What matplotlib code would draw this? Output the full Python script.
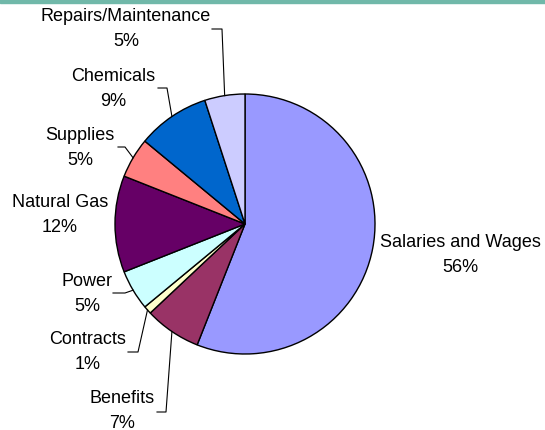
import numpy as np
import matplotlib
matplotlib.use('Agg')
import matplotlib.pyplot as plt
from matplotlib.patches import Rectangle

# Cost breakdown (percent), clockwise from 12 o'clock
labels = ["Salaries and Wages", "Benefits", "Contracts", "Power",
          "Natural Gas", "Supplies", "Chemicals", "Repairs/Maintenance"]
shares = [56, 7, 1, 5, 12, 5, 9, 5]
colors = ["#9999FF", "#993366", "#FFFFCC", "#CCFFFF",
          "#660066", "#FF8080", "#0066CC", "#CCCCFF"]

# label layout in pixel coords: text centre, and leader elbow (None = no leader)
text_pos = {
    "Salaries and Wages": (460, 255),
    "Benefits": (122, 411),
    "Contracts": (88, 352),
    "Power": (87, 294),
    "Natural Gas": (60, 215),
    "Supplies": (80, 148),
    "Chemicals": (113, 89),
    "Repairs/Maintenance": (126, 29),
}
leader_start = {
    "Benefits": [(157, 413), (166, 413)],
    "Contracts": [(128, 353), (138, 353)],
    "Power": [(113, 294), (125, 294)],
    "Supplies": [(118, 148), (125, 148)],
    "Chemicals": [(158, 89), (167, 89)],
    "Repairs/Maintenance": [(212, 30), (222, 30)],
}

W, H = 545, 431
cx, cy, r = 245, 225, 130

plt.rcParams['font.family'] = ['Liberation Sans', 'DejaVu Sans']

fig = plt.figure(figsize=(W / 100, H / 100), dpi=100)
ax = fig.add_axes([0, 0, 1, 1])

# y axis is inverted, so counterclock in data space shows clockwise
wedges, _ = ax.pie(shares, colors=colors, startangle=-90, counterclock=True,
                   center=(cx, cy), radius=r, frame=True,
                   wedgeprops=dict(edgecolor='black', linewidth=1.0))
ax.set_xlim(0, W)
ax.set_ylim(H, 0)
ax.set_aspect('equal')
ax.axis('off')

for w, lab, val in zip(wedges, labels, shares):
    tx, ty = text_pos[lab]
    ax.text(tx, ty, f"{lab}\n{val}%", ha='center', va='center',
            fontsize=13, linespacing=1.55, color='black')
    if lab in leader_start:
        mid = np.deg2rad((w.theta1 + w.theta2) / 2)
        ex, ey = cx + r * np.cos(mid), cy + r * np.sin(mid)
        pts = leader_start[lab] + [(ex, ey)]
        xs, ys = zip(*pts)
        ax.plot(xs, ys, color='black', linewidth=0.8)

# teal strip along the top edge
ax.add_patch(Rectangle((0, 0), W, 3.5, color='#70B8A9', clip_on=False))

fig.savefig('out.png', dpi=100, facecolor='white')
